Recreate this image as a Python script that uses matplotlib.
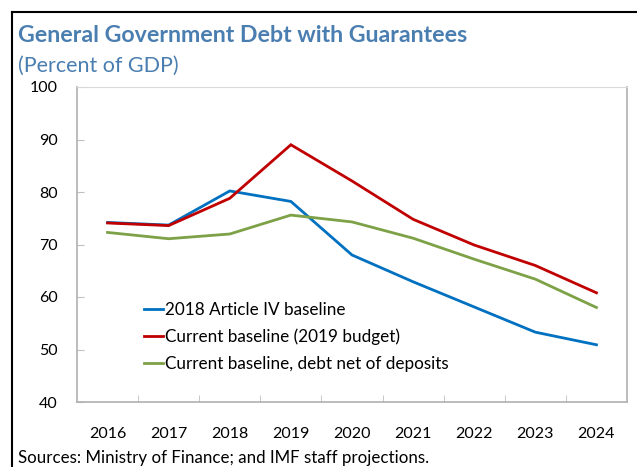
import matplotlib.pyplot as plt
from matplotlib.lines import Line2D

plt.rcParams["font.family"] = ["Lato", "DejaVu Sans"]

years = ["2016", "2017", "2018", "2019", "2020", "2021", "2022", "2023", "2024"]
article_iv = [74.2, 73.7, 80.2, 78.2, 68.0, 62.9, 58.1, 53.3, 50.9]
current = [74.1, 73.6, 78.8, 89.0, 82.1, 74.8, 69.9, 66.0, 60.8]
net_deposits = [72.3, 71.1, 72.0, 75.6, 74.3, 71.2, 67.2, 63.4, 58.0]

series_names = ["2018 Article IV baseline",
                "Current baseline (2019 budget)",
                "Current baseline, debt net of deposits"]
colors = ["#0070C0", "#C00000", "#7DA146"]
title_blue = "#4A7EB0"

fig = plt.figure(figsize=(6.37, 4.67), dpi=100)
ax = fig.add_axes([77 / 637, 1 - 402 / 467, 550 / 637, 315 / 467])

x = list(range(len(years)))
for vals, c in zip([article_iv, current, net_deposits], colors):
    ax.plot(x, vals, color=c, lw=2.0, solid_joinstyle="miter")

ax.set_xlim(-0.5, len(years) - 0.5)
ax.set_ylim(40, 100)
ax.set_yticks(range(40, 101, 10))
ax.set_xticks(x)
ax.set_xticklabels(years)
ax.set_xticks([i + 0.5 for i in range(len(years) - 1)], minor=True)
ax.tick_params(axis="x", which="major", length=0, pad=18, labelsize=11.5)
ax.tick_params(axis="x", which="minor", length=5, direction="in", color="#BFBFBF")
ax.tick_params(axis="y", length=5, direction="in", color="#BFBFBF", pad=14, labelsize=11.5)
for side in ["left", "bottom", "right"]:
    ax.spines[side].set_color("#B0B0B0")
    ax.spines[side].set_linewidth(1.2)
ax.spines["top"].set_color("#D9D9D9")

handles = [Line2D([], [], color=c, lw=2.0) for c in colors]
ax.legend(handles, series_names, loc="lower left", bbox_to_anchor=(0.11, 0.075),
          frameon=False, fontsize=12.3, handlelength=1.1, handletextpad=0.1,
          labelspacing=0.62, borderaxespad=0)

# outer frame lines along top and left edge
fig.add_artist(Line2D([12 / 637, 1], [1 - 12 / 467] * 2, color="black", lw=1.5))
fig.add_artist(Line2D([12 / 637] * 2, [0, 1 - 12 / 467], color="black", lw=1.5))

fig.text(18 / 637, 1 - 42 / 467, "General Government Debt with Guarantees",
         color=title_blue, fontsize=16.7, fontweight="bold")
fig.text(18 / 637, 1 - 72 / 467, "(Percent of GDP)", color=title_blue, fontsize=15.5)
fig.text(18 / 637, 1 - 463 / 467, "Sources: Ministry of Finance; and IMF staff projections.",
         fontsize=12.2)

fig.savefig("out.png", dpi=100)
